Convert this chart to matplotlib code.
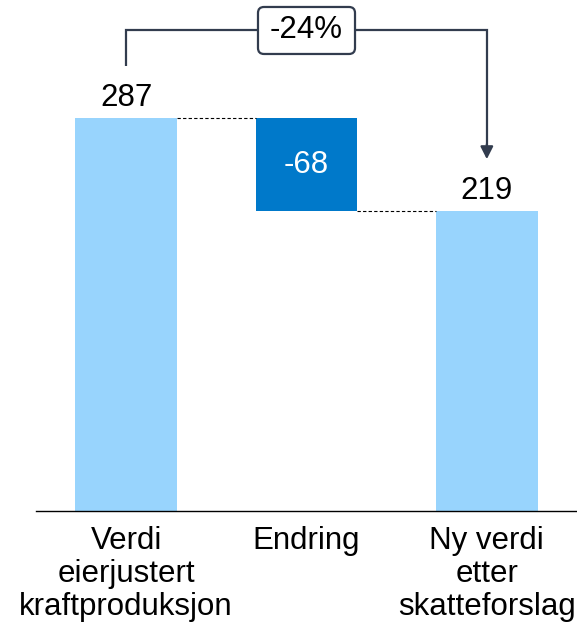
import matplotlib
matplotlib.use("Agg")
import matplotlib.pyplot as plt
from matplotlib.patches import FancyBboxPatch

plt.rcParams['font.family'] = ['Liberation Sans', 'DejaVu Sans']

categories = ["Verdi\neierjustert\nkraftproduksjon", "Endring", "Ny verdi\netter\nskatteforslag"]
start_value = 287
change_value = -68
end_value = 219
pct_label = "-24%"

light = "#98D4FD"
dark = "#0079CA"
line_col = "#323C4E"

fig = plt.figure(figsize=(5.77, 6.28), dpi=100)
ax = fig.add_axes([36/577, 1 - 511/628, 541/577, 511/628])

px_x = 180.3   # pixels per x unit
px_y = 1.369   # pixels per y unit

x = [0, 1, 2]
w = 0.565
ax.bar(x[0], start_value, width=w, color=light)
ax.bar(x[1], -change_value, bottom=start_value + change_value, width=w, color=dark)
ax.bar(x[2], end_value, width=w, color=light)

# connectors
ax.plot([x[0] + w/2, x[1] - w/2], [start_value, start_value], ls=(0, (3, 2)), color='black', lw=0.8)
ax.plot([x[1] + w/2, x[2] - w/2], [end_value, end_value], ls=(0, (3, 2)), color='black', lw=0.8)

fs = 22.5
ax.annotate(str(start_value), (x[0], start_value), xytext=(0, 4), textcoords='offset points',
            ha='center', va='bottom', fontsize=fs)
ax.annotate(str(end_value), (x[2], end_value), xytext=(0, 4), textcoords='offset points',
            ha='center', va='bottom', fontsize=fs)
ax.text(x[1], start_value + change_value/2, str(change_value), ha='center', va='center',
        fontsize=fs, color='white')

ax.set_xlim(-0.5, 2.5)
ax.set_ylim(0, 511/px_y)

# bracket
ytop = 351
ax.plot([x[0], x[0], x[2], x[2]], [325, ytop, ytop, 266], color=line_col, lw=1.6,
        solid_capstyle='butt', solid_joinstyle='miter')
ax.annotate("", xy=(x[2], 257), xytext=(x[2], 268),
            arrowprops=dict(arrowstyle='-|>,head_width=0.38,head_length=0.75', color=line_col, lw=1.6,
                            shrinkA=0, shrinkB=0))
bw = 97 / px_x
bh = 47 / px_y
r = 6 / px_x
box = FancyBboxPatch((1.0 - bw/2, ytop - bh/2), bw, bh,
                     boxstyle=f"round,pad=0,rounding_size={r}",
                     mutation_aspect=px_x/px_y, fc='white', ec=line_col, lw=1.6, zorder=3)
ax.add_patch(box)
ax.text(1.0, ytop, pct_label, ha='center', va='center', fontsize=fs, zorder=4)

for s in ['top', 'right', 'left']:
    ax.spines[s].set_visible(False)
ax.spines['bottom'].set_linewidth(1.0)
ax.set_yticks([])
ax.set_xticks(x)
ax.set_xticklabels(categories, fontsize=fs, linespacing=1.12)
ax.tick_params(axis='x', length=0, pad=11)

fig.savefig("out.png", dpi=100)
